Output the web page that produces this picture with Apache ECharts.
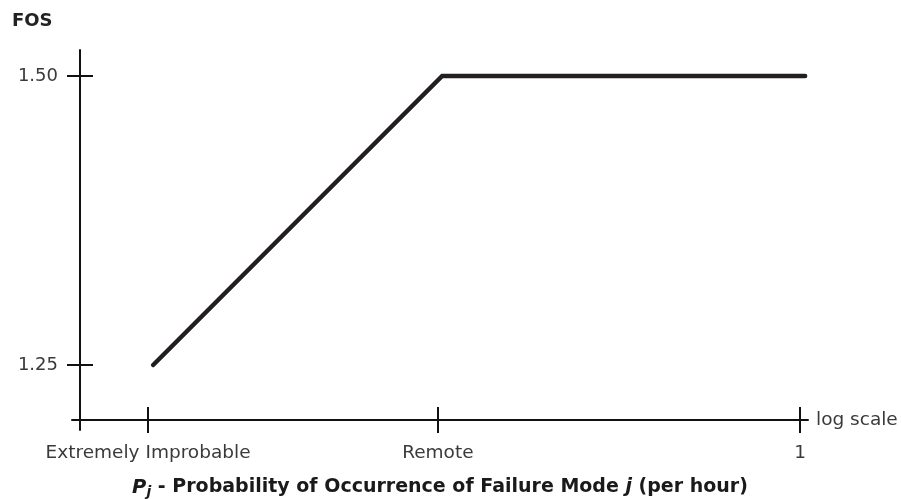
<!DOCTYPE html>
<html>
<head>
<meta charset="utf-8">
<script src="https://cdn.jsdelivr.net/npm/echarts@6/dist/echarts.min.js"></script>
<style>
html,body{margin:0;padding:0;background:#fff;}
#chart{width:901px;height:499px;}
</style>
</head>
<body>
<div id="chart"></div>
<script>
// x values are log10 of probability per hour
const xTickValues = [-9, -5, 0];
const xTickLabels = ['Extremely Improbable', 'Remote', '1'];
const yTickValues = [1.25, 1.5];
const yTickLabels = ['1.25', '1.50'];
const fosLogP = [-8.93, -4.94, 0.07];
const fosValue = [1.25, 1.50, 1.50];

const font = 'DejaVu Sans';
const labelColor = '#3a3a3a';
const ink = '#111';
const xMin = -10.05, xMax = 0.11, yMin = 1.1938, yMax = 1.5225;

function xLabel(v) {
  const i = xTickValues.indexOf(v);
  return i >= 0 ? xTickLabels[i] : '';
}
function yLabel(v) {
  const i = yTickValues.findIndex(t => Math.abs(t - v) < 1e-9);
  return i >= 0 ? yTickLabels[i] : '';
}

const chart = echarts.init(document.getElementById('chart'), null, {renderer: 'canvas'});
chart.setOption({
  animation: false,
  backgroundColor: '#fff',
  title: {
    text: 'FOS', left: 7, top: 7,
    textStyle: {fontFamily: font, fontSize: 18, fontWeight: 'bold', color: '#222'}
  },
  grid: {left: 72, right: 93, top: 50, bottom: 69, containLabel: false, outerBoundsMode: 'none'},
  xAxis: [
    {
      type: 'value', min: xMin, max: xMax, position: 'bottom', offset: -10,
      axisLine: {show: true, onZero: false, lineStyle: {color: ink, width: 2}},
      axisTick: {show: true, customValues: xTickValues, length: 13, lineStyle: {color: ink, width: 2}},
      axisLabel: {show: true, customValues: xTickValues, formatter: xLabel, margin: 24,
        fontFamily: font, fontSize: 18.5, color: labelColor},
      splitLine: {show: false},
      name: 'log scale', nameLocation: 'end', nameGap: 8,
      nameTextStyle: {fontFamily: font, fontSize: 18.5, color: labelColor}
    },
    {
      type: 'value', min: xMin, max: xMax, position: 'bottom', offset: -10,
      axisLine: {show: false, onZero: false},
      axisTick: {show: true, inside: true, customValues: xTickValues, length: 13, lineStyle: {color: ink, width: 2}},
      axisLabel: {show: false},
      splitLine: {show: false},
      name: '{p|P}{sub|j}{b| - Probability of Occurrence of Failure Mode }{bi|j}{b| (per hour)}',
      nameLocation: 'middle', nameGap: 56,
      nameTextStyle: {
        fontFamily: font, fontSize: 19, fontWeight: 'bold', color: '#1a1a1a',
        rich: {
          p: {fontFamily: font, fontSize: 19.5, fontWeight: 'bold', fontStyle: 'italic', color: '#1a1a1a'},
          sub: {fontFamily: font, fontSize: 14, fontWeight: 'bold', fontStyle: 'italic', color: '#1a1a1a', verticalAlign: 'bottom', padding: [9, 0, 0, 0]},
          b: {fontFamily: font, fontSize: 19, fontWeight: 'bold', color: '#1a1a1a'},
          bi: {fontFamily: font, fontSize: 19, fontWeight: 'bold', fontStyle: 'italic', color: '#1a1a1a'}
        }
      }
    }
  ],
  yAxis: [
    {
      type: 'value', min: yMin, max: yMax, position: 'left', offset: -8,
      axisLine: {show: true, onZero: false, lineStyle: {color: ink, width: 2}},
      axisTick: {show: true, customValues: yTickValues, length: 13, lineStyle: {color: ink, width: 2}},
      axisLabel: {show: true, customValues: yTickValues, formatter: yLabel, margin: 22,
        fontFamily: font, fontSize: 18, color: labelColor},
      splitLine: {show: false}
    },
    {
      type: 'value', min: yMin, max: yMax, position: 'left', offset: -8,
      axisLine: {show: false, onZero: false},
      axisTick: {show: true, inside: true, customValues: yTickValues, length: 13, lineStyle: {color: ink, width: 2}},
      axisLabel: {show: false},
      splitLine: {show: false}
    }
  ],
  series: [{
    type: 'line', xAxisIndex: 0, yAxisIndex: 0,
    data: fosLogP.map((x, i) => [x, fosValue[i]]),
    symbol: 'none',
    lineStyle: {color: '#231f20', width: 4.5, cap: 'round', join: 'miter'},
    z: 5
  }]
});
</script>
</body>
</html>
